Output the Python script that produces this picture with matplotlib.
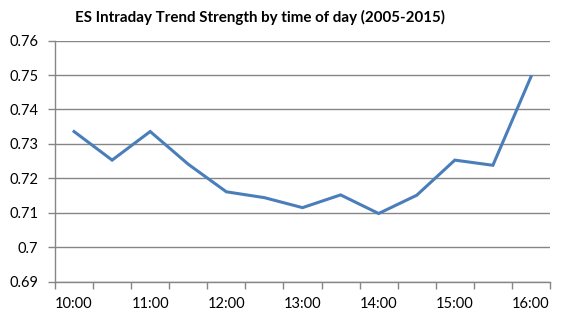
import matplotlib
matplotlib.use('Agg')
import matplotlib.pyplot as plt
import numpy as np

plt.rcParams['font.family'] = ['Lato', 'DejaVu Sans']

times = ["10:00", "10:30", "11:00", "11:30", "12:00", "12:30", "13:00",
         "13:30", "14:00", "14:30", "15:00", "15:30", "16:00"]
strength = [0.7336, 0.7253, 0.7336, 0.7241, 0.7161, 0.7144, 0.7115,
            0.7152, 0.7098, 0.7151, 0.7253, 0.7238, 0.7495]
y_ticks = [0.69, 0.7, 0.71, 0.72, 0.73, 0.74, 0.75, 0.76]
y_labels = ["0.69", "0.7", "0.71", "0.72", "0.73", "0.74", "0.75", "0.76"]

AXIS_GRAY = '#868686'
LINE_BLUE = '#4A7EBB'

fig = plt.figure(figsize=(5.7, 3.27), dpi=100)
ax = fig.add_axes([55 / 570, 1 - 281.7 / 327, 495 / 570, (281.7 - 40.6) / 327])

x = np.arange(len(times))
ax.plot(x, strength, color=LINE_BLUE, linewidth=2.2, solid_joinstyle='miter')

ax.set_xlim(-0.5, len(times) - 0.5)
ax.set_ylim(0.69, 0.76)

# gridlines and ticks, category style axis
ax.set_yticks(y_ticks)
ax.set_yticklabels(y_labels)
ax.yaxis.grid(True, color=AXIS_GRAY, linewidth=1.0)
ax.set_axisbelow(True)

ax.set_xticks(np.arange(-0.5, len(times)))
ax.set_xticklabels([])
ax.set_xticks(x[::2], minor=True)
ax.set_xticklabels(times[::2], minor=True)

ax.tick_params(axis='x', which='major', length=5, color=AXIS_GRAY, width=1.0)
ax.tick_params(axis='x', which='minor', length=0, pad=11, labelsize=10.5, labelcolor='black')
ax.tick_params(axis='y', length=5, color=AXIS_GRAY, width=1.0, pad=7, labelsize=10.5)

for side in ['top', 'right']:
    ax.spines[side].set_visible(False)
for side in ['left', 'bottom']:
    ax.spines[side].set_color(AXIS_GRAY)
    ax.spines[side].set_linewidth(1.0)

fig.text(260 / 570, 1 - 17 / 327, "ES Intraday Trend Strength by time of day (2005-2015)",
         ha='center', va='center', fontsize=10.9, fontweight='bold')

fig.savefig('out.png', dpi=100)
